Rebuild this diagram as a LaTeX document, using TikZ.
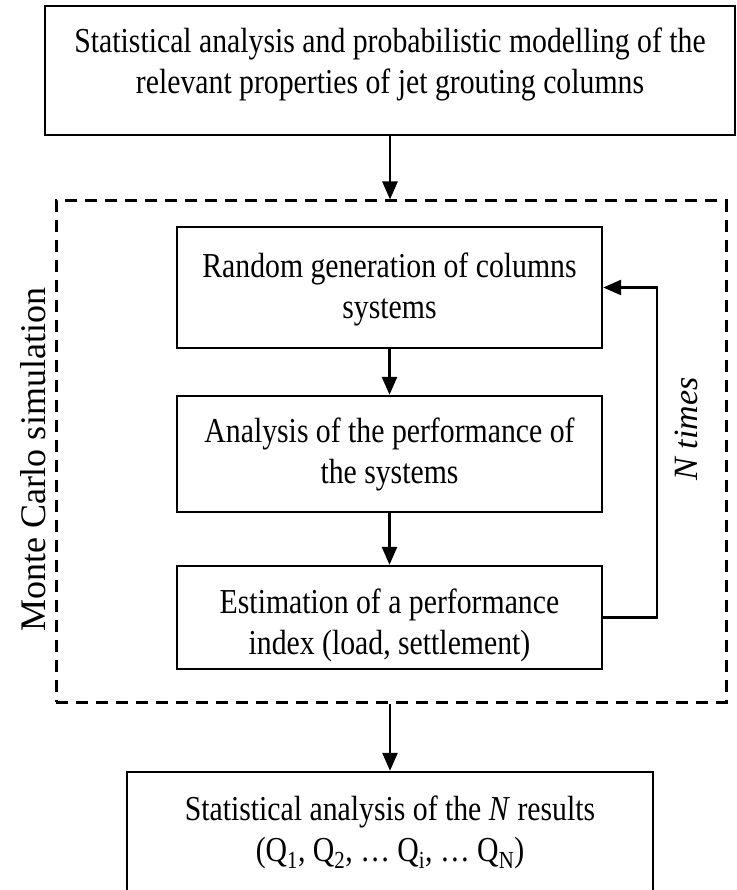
\documentclass[tikz,border=0pt]{standalone}
\usepackage{fontspec}
\setmainfont{Liberation Serif}
\newfontfamily\condfnt[FakeStretch=0.85]{Liberation Serif}
\usetikzlibrary{arrows.meta}
\begin{document}
\begin{tikzpicture}[x=1pt,y=-1pt,
  box/.style={draw, line width=2.4pt, inner sep=0pt, align=center,
    font=\condfnt\fontsize{35}{41}\selectfont, text depth=0pt},
  flow/.style={line width=2.6pt, -{Triangle[length=18pt,width=15pt]}},
  mcbox/.style={draw, dash pattern=on 12pt off 8pt, line width=3pt, inner sep=0pt},
  sidelabel/.style={rotate=90, inner sep=0pt}
]
\useasboundingbox (0,0) rectangle (736,890);

\node[box, minimum width=690pt, minimum height=129pt, text height=47pt] (top) at (390,70.5)
  {Statistical analysis and probabilistic modelling of the\\relevant properties of jet grouting columns};

\node[mcbox, minimum width=670pt, minimum height=501pt] (mc) at (391,451.5) {};

\node[box, minimum width=425pt, minimum height=121pt, text height=61pt] (gen) at (389.5,287.5)
  {Random generation of columns\\systems};
\node[box, minimum width=425pt, minimum height=116pt, text height=58pt] (perf) at (389.5,454)
  {Analysis of the performance of\\the systems};
\node[box, minimum width=425pt, minimum height=103pt, text height=73pt] (est) at (389.5,617.5)
  {Estimation of a performance\\index (load, settlement)};

\node[box, minimum width=526pt, minimum height=133pt, text height=45pt] (res) at (390,838.5)
  {Statistical analysis of the \textit{N} results\\(Q\textsubscript{1}, Q\textsubscript{2}, … Q\textsubscript{i}, … Q\textsubscript{N})};

\node[sidelabel, font=\fontsize{36}{40}\selectfont] (mclabel) at (33,460) {Monte Carlo simulation};
\node[sidelabel, font=\itshape\fontsize{34}{40}\selectfont] (ntimes) at (686,429) {N times};

\draw[flow] (top.south) -- (top.south |- mc.north);
\draw[flow] (gen.south) -- (perf.north);
\draw[flow] (perf.south) -- (est.north);
\draw[flow] (est.east) -- (657,617.5) coordinate (fb) -- (fb |- gen.east) -- (gen.east);
\draw[flow] (res.north |- mc.south) -- (res.north);
\end{tikzpicture}
\end{document}
